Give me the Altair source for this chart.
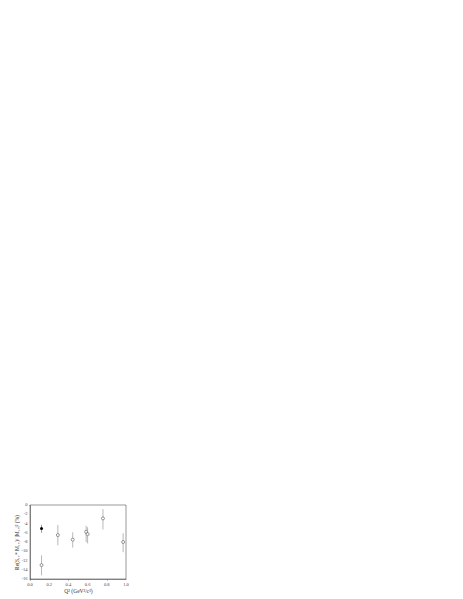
import altair as alt
import pandas as pd

# open-circle data (Q^2, value, error-bar top, error-bar bottom)
open_q2 = [0.12, 0.29, 0.445, 0.585, 0.60, 0.76, 0.97]
open_val = [-13.0, -6.5, -7.5, -5.8, -6.3, -2.9, -8.0]
open_top = [-10.9, -4.3, -5.9, -4.5, -4.8, -0.9, -6.1]
open_bot = [-15.2, -8.7, -9.2, -8.0, -8.3, -5.3, -10.2]

# filled point
fill_q2 = [0.12]
fill_val = [-5.1]
fill_top = [-4.3]
fill_bot = [-6.0]

x_ticks = [0.0, 0.2, 0.4, 0.6, 0.8, 1.0]
x_labels = ["0.0", "0.2", "0.4", "0.6", "0.8", "1.0"]
x_minor = [0.0, 0.1, 0.2, 0.3, 0.4, 0.5, 0.6, 0.7, 0.8, 0.9, 1.0]
y_ticks = [0, -2, -4, -6, -8, -10, -12, -14, -16]
y_labels = ["0", "-2", "-4", "-6", "-8", "-10", "-12", "-14", "-16"]
y_minor = [0, -1, -2, -3, -4, -5, -6, -7, -8, -9, -10, -11, -12, -13, -14, -15, -16]

df_open = pd.DataFrame({"q2": open_q2, "v": open_val, "t": open_top, "b": open_bot})
df_fill = pd.DataFrame({"q2": fill_q2, "v": fill_val, "t": fill_top, "b": fill_bot})
df_xl = pd.DataFrame({"q2": x_ticks, "lab": x_labels})
df_yl = pd.DataFrame({"v": y_ticks, "lab": y_labels})

FONT = "Liberation Serif"
W, H = 96, 74

xs = alt.Scale(domain=[0, 1], nice=False)
ys = alt.Scale(domain=[-16, 0], nice=False)

common = dict(
    grid=False, tickSize=1.2, labels=False, titleFontSize=5.5,
    titleFont=FONT, titleFontWeight="normal",
    domainColor="#333", tickColor="#333", titleColor="#333",
    domainWidth=0.5, tickWidth=0.4,
)

x_axis = alt.Axis(title="Q²  (GeV²/c²)", values=x_minor, titlePadding=8.5, **common)
y_axis = alt.Axis(title="Re(S₁₊* M₁₊)/ |M₁₊|²  (%)", values=y_minor, titlePadding=9, **common)

err_open = alt.Chart(df_open).mark_rule(color="#888", strokeWidth=0.6).encode(
    x=alt.X("q2:Q", scale=xs, axis=x_axis),
    y=alt.Y("t:Q", scale=ys, axis=y_axis),
    y2="b:Q",
)
pts_open = alt.Chart(df_open).mark_point(
    shape="circle", filled=True, fill="white", stroke="#555", strokeWidth=0.6, size=9, opacity=1
).encode(x="q2:Q", y="v:Q")

err_fill = alt.Chart(df_fill).mark_rule(color="#555", strokeWidth=0.6).encode(
    x="q2:Q", y="t:Q", y2="b:Q"
)
pts_fill = alt.Chart(df_fill).mark_point(
    shape="circle", filled=True, color="black", size=9, opacity=1
).encode(x="q2:Q", y="v:Q")

xl = alt.Chart(df_xl).mark_text(
    font=FONT, fontSize=4.5, color="#444", baseline="top", align="center"
).encode(x="q2:Q", y=alt.value(H + 2.5), text="lab:N")

yl = alt.Chart(df_yl).mark_text(
    font=FONT, fontSize=4.5, color="#444", baseline="middle", align="right"
).encode(y="v:Q", x=alt.value(-2.5), text="lab:N")

chart = alt.layer(err_open, err_fill, pts_open, pts_fill, xl, yl).properties(
    width=W, height=H,
    autosize=alt.AutoSizeParams(type="none"),
    padding={"left": 22, "top": 497, "right": 10, "bottom": 16},
    background="white",
).configure_view(stroke="#333", strokeWidth=0.5)

chart.save("out.html", embed_options={"renderer": "svg", "actions": False})
